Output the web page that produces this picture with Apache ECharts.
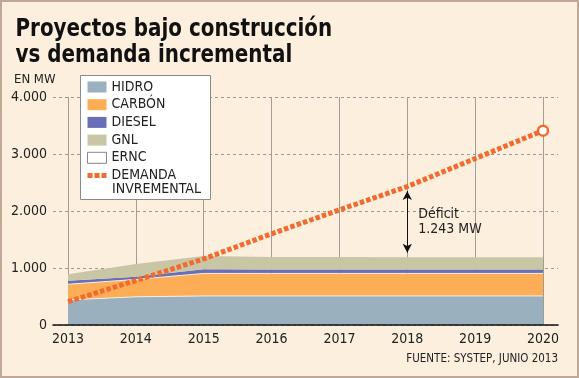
<!DOCTYPE html>
<html><head><meta charset="utf-8">
<script src="https://cdn.jsdelivr.net/npm/echarts@6/dist/echarts.min.js"></script>
<style>html,body{margin:0;padding:0;background:#fcefdd}#c{width:579px;height:378px}</style>
</head><body><div id="c"></div>
<script>
// ---- data ----
const years  = ['2013','2014','2015','2016','2017','2018','2019','2020'];
const hidro  = [440, 495, 510, 510, 510, 510, 510, 510];
const carbon = [275, 305, 395, 395, 395, 395, 395, 395];
const diesel = [60, 48, 72, 67, 67, 67, 67, 67];
const gnl    = [114, 222, 233, 223, 220, 218, 218, 218];
const ernc   = [0, 0, 0, 0, 0, 0, 0, 0];
const demand = [410, 780, 1160, 1600, 2020, 2430, 2920, 3410];
const yTicks = [0, 1000, 2000, 3000, 4000];
const deficitYear = '2018';
const deficitText = 'Déficit\n1.243 MW';

const FONT = "'DejaVu Sans Condensed','DejaVu Sans',sans-serif";
const ORANGE = '#f26a2e';
const fmt = v => String(v).replace(/\B(?=(\d{3})+(?!\d))/g, '.');

const di = years.indexOf(deficitYear);
const supplyAt = hidro[di] + carbon[di] + diesel[di] + gnl[di] + ernc[di];
// arrow heads are centred on the end points: pull them in by half a head (4.5px of a 228px / 4000 MW plot)
const headGap = 4.5 * 4000 / 228;

const demandData = demand.map((v, i) => i === demand.length - 1
  ? {value: v, symbol: 'circle', symbolSize: 10, itemStyle: {color: '#fff', borderColor: ORANGE, borderWidth: 2.5}}
  : {value: v, symbol: 'none'});

const chart = echarts.init(document.getElementById('c'), null, {renderer: 'canvas'});
const sep = {color: '#f3eee6', width: 1};
const area = (name, data, color, line) => ({
  name, type: 'line', data, stack: 'total', xAxisIndex: 1, yAxisIndex: 1,
  symbol: 'none', smooth: false,
  itemStyle: {color}, lineStyle: line || {width: 0}, areaStyle: {color, opacity: 1},
  emphasis: {disabled: true}
});

chart.setOption({
  animation: false,
  backgroundColor: '#fcefdd',
  graphic: [
    {type: 'rect', shape: {x: 1, y: 1, width: 577, height: 376}, style: {fill: 'none', stroke: '#bfa898', lineWidth: 2}, silent: true},
    {type: 'text', x: 15.5, y: 16, scaleX: 0.885, z: 10,
     style: {text: 'Proyectos bajo construcción\nvs demanda incremental',
             font: 'bold 25px ' + FONT, lineHeight: 26, fill: '#111'}},
    {type: 'text', left: 14, top: 73, style: {text: 'EN MW', font: '13px ' + FONT, fill: '#222'}},
    {type: 'text', right: 21, top: 353, style: {text: 'FUENTE: SYSTEP, JUNIO 2013', font: '11.5px ' + FONT, fill: '#222'}},
    {type: 'rect', z: 1, shape: {x: 80.5, y: 75.5, width: 130, height: 124},
     style: {fill: '#fff', stroke: '#8a8a8a', lineWidth: 1}, silent: true},
    {type: 'text', x: 112, y: 182, z: 10, style: {text: 'INVREMENTAL', font: '14px ' + FONT, fill: '#222'}}
  ],
  legend: {
    orient: 'vertical', left: 80, top: 75, z: 5,
    padding: [5, 8, 4, 7],
    itemWidth: 19, itemHeight: 11, itemGap: 3.7,
    icon: 'rect', selectedMode: false,
    textStyle: {fontFamily: FONT, fontSize: 14, lineHeight: 14, color: '#222'},
    formatter: n => n.split(' ')[0],
    data: [
      'HIDRO', 'CARBÓN', 'DIESEL', 'GNL',
      {name: 'ERNC', itemStyle: {color: '#fff', borderColor: '#888', borderWidth: 1}},
      {name: 'DEMANDA INVREMENTAL',
       icon: 'path://M0,0h5v5h-5zM7,0h5v5h-5zM14,0h5v5h-5z',
       itemStyle: {color: ORANGE, borderWidth: 0}}
    ]
  },
  grid: [
    {left: 53, right: 21, top: 97, bottom: 53},
    {left: 68, right: 36, top: 97, bottom: 53}
  ],
  xAxis: [
    {gridIndex: 0, type: 'value', min: 0, max: 1, axisLabel: {show: false}, axisTick: {show: false}, splitLine: {show: false},
     axisLine: {show: true, lineStyle: {color: '#111', width: 1.6}}, z: 5},
    {gridIndex: 1, type: 'category', data: years, boundaryGap: false,
     axisLine: {show: false}, axisTick: {show: false},
     axisLabel: {margin: 7, fontFamily: FONT, fontSize: 14, color: '#222'},
     splitLine: {show: true, lineStyle: {color: '#a39c96', width: 1}}}
  ],
  yAxis: [
    {gridIndex: 0, type: 'value', min: 0, max: 4000, interval: 1000,
     axisLine: {show: false}, axisTick: {show: false},
     axisLabel: {margin: 6, fontFamily: FONT, fontSize: 14, color: '#222', formatter: v => yTicks.includes(v) ? fmt(v) : ''},
     splitLine: {show: true, lineStyle: {color: '#9a9a9a', width: 1, type: [3, 3]}}},
    {gridIndex: 1, type: 'value', min: 0, max: 4000, interval: 1000, show: false, splitLine: {show: false}}
  ],
  series: [
    area('HIDRO', hidro, '#9bb0be', sep),
    area('CARBÓN', carbon, '#fcad55', sep),
    area('DIESEL', diesel, '#6a6eb6'),
    area('GNL', gnl, '#c9c6a6'),
    area('ERNC', ernc, '#ffffff'),
    {
      name: 'DEMANDA INVREMENTAL', type: 'line', data: demandData, xAxisIndex: 1, yAxisIndex: 1, z: 4,
      symbol: 'circle', symbolSize: 10, showAllSymbol: true,
      itemStyle: {color: ORANGE},
      lineStyle: {color: ORANGE, width: 5, type: [4.5, 2.2]},
      emphasis: {disabled: true},
      markLine: {
        silent: true, symbol: ['arrow', 'arrow'], symbolSize: [7, 9],
        lineStyle: {color: '#111', width: 1, type: 'solid'},
        label: {show: false},
        data: [[{coord: [deficitYear, supplyAt + headGap]}, {coord: [deficitYear, demand[di] - headGap]}]]
      },
      markPoint: {
        silent: true, symbol: 'circle', symbolSize: 0,
        label: {show: true, position: 'right', distance: 11, formatter: deficitText,
                fontFamily: FONT, fontSize: 14, lineHeight: 15, color: '#222', align: 'left'},
        data: [{coord: [deficitYear, (supplyAt + demand[di]) / 2]}]
      }
    }
  ]
});
</script></body></html>
